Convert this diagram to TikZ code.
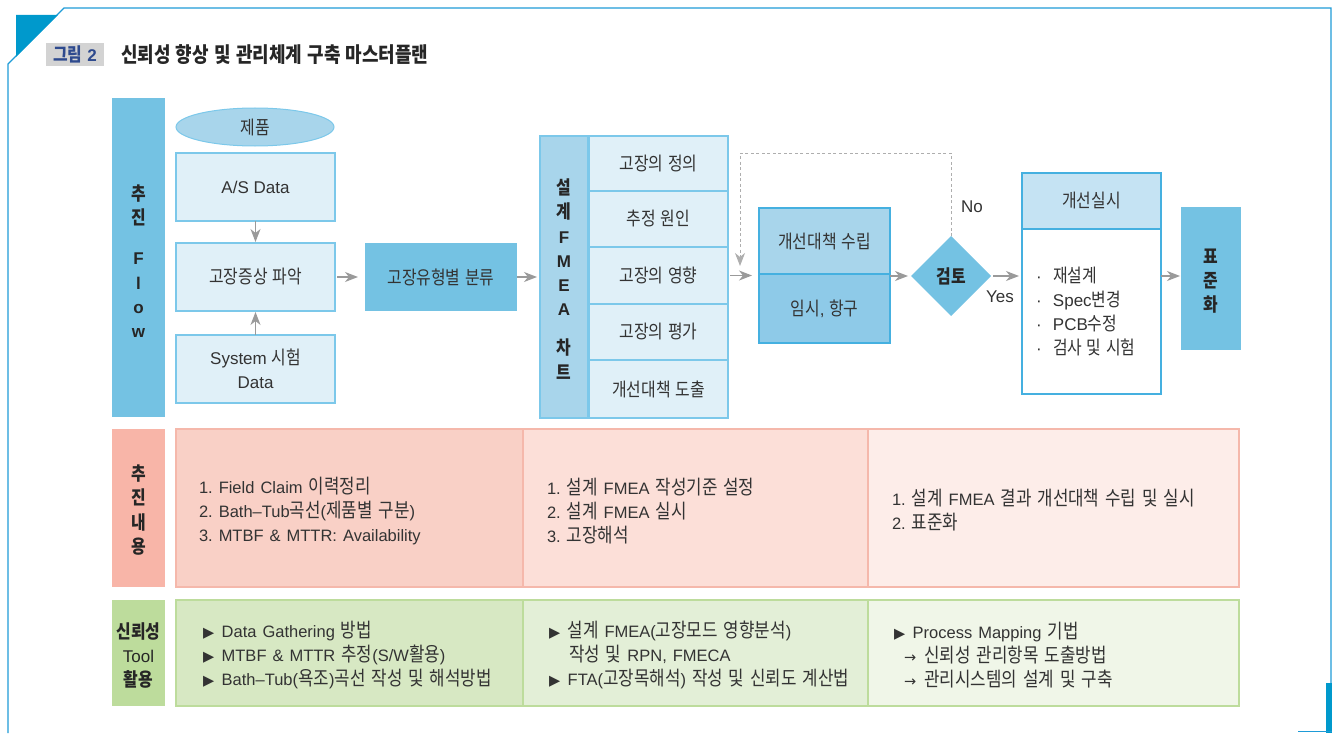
\documentclass[tikz,border=0pt]{standalone}
\usepackage{fontspec}
\setmainfont{Liberation Sans}
\newfontfamily\krA{Noto Sans CJK KR}[FakeStretch=0.85, Scale=1.1]
\newfontfamily\krB{Noto Sans CJK KR}[FakeStretch=0.85, Scale=1.2]
\newcommand\krfont{\krA}
\newfontfamily\symfont{DejaVu Sans}[Scale=0.88]
\XeTeXinterchartokenstate=1
\newXeTeXintercharclass\krclass
\newcount\kc
\kc="AC00
\loop\XeTeXcharclass\kc=\krclass\ifnum\kc<"D7A3 \advance\kc by 1 \repeat
\XeTeXinterchartoks 0 \krclass={\krfont}
\XeTeXinterchartoks 4095 \krclass={\krfont}
\XeTeXinterchartoks \krclass 0={\rmfamily}
\XeTeXinterchartoks \krclass 4095={\rmfamily}
\newcommand\tri{{\symfont ▶}\hspace{7.5pt}}
\newcommand\rarr{{\symfont →}\hspace{8pt}}
\newcommand\cellsetup{\spaceskip=6pt plus 1pt\relax\renewcommand\krfont{\krB}}
\usetikzlibrary{arrows.meta,shapes.geometric}
\definecolor{txt}{HTML}{333333}
\definecolor{frameblue}{HTML}{1E9BD7}
\definecolor{deep}{HTML}{0099CC}
\definecolor{flow}{HTML}{74C2E3}
\definecolor{mid}{HTML}{A8D5EB}
\definecolor{pale}{HTML}{E0F0F8}
\definecolor{edge}{HTML}{7CC8EA}
\definecolor{dedge}{HTML}{45B0E0}
\definecolor{tempf}{HTML}{8ECAE8}
\definecolor{hdr}{HTML}{C5E3F3}
\definecolor{agray}{HTML}{9A9A9A}
\definecolor{salmon}{HTML}{F8B5A8}
\definecolor{sa}{HTML}{F9D0C6}
\definecolor{sb}{HTML}{FCDFD8}
\definecolor{sc}{HTML}{FDEDE9}
\definecolor{sedge}{HTML}{F5B8AB}
\definecolor{green}{HTML}{BDDC9C}
\definecolor{ga}{HTML}{D7E8C3}
\definecolor{gb}{HTML}{E3EFD7}
\definecolor{gc}{HTML}{F0F6E8}
\definecolor{titlegray}{HTML}{D3D3D3}
\definecolor{titleblue}{HTML}{2E4A8E}
\begin{document}
\begin{tikzpicture}[x=1pt,y=-1pt,
  every node/.style={text=txt, font=\fontsize{17}{24}\selectfont\frenchspacing, inner sep=0pt, outer sep=0pt},
  pbox/.style={draw=edge, line width=1.2pt, fill=pale},
  lbl/.style={align=center, text=black!85, font=\fontsize{17}{24.3}\selectfont\bfseries},
  arr/.style={draw=agray, line width=1.2pt, -{Stealth[length=13pt,width=10pt,inset=4pt]}},
  cell/.style={line width=1.2pt},
  celltext/.style={anchor=west, align=left, font=\fontsize{16.5}{23.6}\selectfont\frenchspacing\cellsetup},
  ]
\useasboundingbox (0,0) rectangle (1332,733);
% frame
\draw[frameblue, line width=1.2pt] (8,733) -- (8,64) -- (64,8) -- (1331,8) -- (1331,690);
\fill[deep] (16,15) -- (58,15) -- (16,57) -- cycle;
\fill[deep] (1326,683) rectangle (1332,733);
\draw[frameblue, line width=1.2pt] (1298,731.5) -- (1332,731.5);
% title
\node[fill=titlegray, minimum width=58pt, minimum height=23pt, text=titleblue, font=\fontsize{17}{20}\selectfont\bfseries] (fig) at (75,54.5) {그림 2};
\node[anchor=west, text=black!85, font=\fontsize{19.2}{20}\selectfont\bfseries] (title) at (121,55) {신뢰성 향상 및 관리체계 구축 마스터플랜};
% left labels
\node[fill=flow, minimum width=53pt, minimum height=319pt] (lflow) at (138.5,257.5) {};
\node[lbl] (lflowt) at (138.5,261) {추\\진\\[16pt]F\\l\\o\\w};
\node[fill=salmon, minimum width=53pt, minimum height=158pt] (lcont) at (138.5,508) {};
\node[lbl] (lcontt) at (138.5,510) {추\\진\\내\\용};
\node[fill=green, minimum width=53pt, minimum height=106pt] (ltool) at (138.5,653) {};
\node[lbl, font=\fontsize{17}{24}\selectfont] (ltoolt) at (138.5,655) {{\bfseries 신뢰성}\\Tool\\{\bfseries 활용}};
% flow column 1
\node[ellipse, draw=edge, fill=mid, line width=1pt, minimum width=158pt, minimum height=38pt] (jp) at (255,127) {제품};
\node[pbox, minimum width=159pt, minimum height=68pt] (asd) at (255.5,187) {A/S Data};
\node[pbox, minimum width=159pt, minimum height=68pt] (sym) at (255.5,277) {고장증상 파악};
\node[pbox, minimum width=159pt, minimum height=68pt, align=center] (sys) at (255.5,369) {System 시험\\Data};
\node[fill=flow, minimum width=152pt, minimum height=68pt] (cls) at (441,277) {고장유형별 분류};
% FMEA chart
\node[draw=edge, fill=mid, line width=1.2pt, minimum width=48pt, minimum height=282pt] (fcol) at (564,277) {};
\node[lbl, font=\fontsize{17}{24.2}\selectfont\bfseries] (fcolt) at (564,279) {설\\계\\F\\M\\E\\A\\[15pt]차\\트};
\node[pbox, minimum width=139pt, minimum height=55pt] (r1) at (658.5,163.5) {고장의 정의};
\node[pbox, minimum width=139pt, minimum height=56pt] (r2) at (658.5,219) {추정 원인};
\node[pbox, minimum width=139pt, minimum height=57pt] (r3) at (658.5,275.5) {고장의 영향};
\node[pbox, minimum width=139pt, minimum height=56pt] (r4) at (658.5,332) {고장의 평가};
\node[pbox, minimum width=139pt, minimum height=58pt] (r5) at (658.5,389) {개선대책 도출};
% measures
\node[draw=dedge, fill=mid, line width=1.5pt, minimum width=131pt, minimum height=66pt] (plan) at (824.5,241) {개선대책 수립};
\node[draw=dedge, fill=tempf, line width=1.5pt, minimum width=131pt, minimum height=69pt] (tmp) at (824.5,308.5) {임시, 항구};
\node[diamond, aspect=1, fill=flow, minimum width=80pt, minimum height=80pt, font=\fontsize{17}{20}\selectfont\bfseries, text=black!85] (rev) at (951,276) {검토};
\node (no) at (972,207) {No};
\node (yes) at (1000,297) {Yes};
% implementation
\node[draw=dedge, fill=hdr, line width=1.2pt, minimum width=139pt, minimum height=56pt] (ihd) at (1091.5,201) {개선실시};
\node[draw=dedge, fill=white, line width=1.2pt, minimum width=139pt, minimum height=165pt] (ibd) at (1091.5,311.5) {};
\node[anchor=west, align=left] (ibt) at (1036,312) {\makebox[17pt][l]{·}재설계\\\makebox[17pt][l]{·}Spec변경\\\makebox[17pt][l]{·}PCB수정\\\makebox[17pt][l]{·}검사 및 시험};
\node[fill=flow, minimum width=60pt, minimum height=143pt] (std) at (1211,278.5) {};
\node[lbl] (stdt) at (1211,281) {표\\준\\화};
% arrows
\draw[arr, shorten >=1pt] (asd.south) -- (sym.north);
\draw[arr, shorten >=1pt] (sys.north) -- (sym.south);
\draw[arr, shorten <=2pt, shorten >=7pt] (sym.east) -- (cls.west);
\draw[arr, shorten >=3pt] (cls.east) -- (fcol.west);
\draw[arr, shorten <=2pt, shorten >=7pt] (r3.east) -- (r3.east -| plan.west);
\draw[arr, shorten >=3pt] (rev.west -| tmp.east) -- (rev.west);
\draw[arr, shorten <=2pt, shorten >=3pt] (rev.east) -- (rev.east -| ibd.west);
\draw[arr, shorten >=1pt] (ibd.east |- rev.east) -- (std.west |- rev.east);
\coordinate (fb1) at (740,153);
\coordinate (fb2) at (740,266);
\draw[draw=agray!80, line width=1pt, dash pattern=on 3pt off 2.5pt, -{Stealth[length=13pt,width=10pt,inset=4pt]}] (rev.north) |- (fb1) -- (fb2);
% content row
\node[cell, fill=sa, draw=sedge, minimum width=347pt, minimum height=158pt] (c11) at (349.5,508) {};
\node[cell, fill=sb, draw=sedge, minimum width=345pt, minimum height=158pt] (c12) at (695.5,508) {};
\node[cell, fill=sc, draw=sedge, minimum width=371pt, minimum height=158pt] (c13) at (1053.5,508) {};
\node[celltext] (t11) at (199,511) {1. Field Claim 이력정리\\2. Bath–Tub곡선(제품별 구분)\\3. MTBF \& MTTR: Availability};
\node[celltext] (t12) at (547,511) {1. 설계 FMEA 작성기준 설정\\2. 설계 FMEA 실시\\3. 고장해석};
\node[celltext] (t13) at (892,510) {1. 설계 FMEA 결과 개선대책 수립 및 실시\\2. 표준화};
% tool row
\node[cell, fill=ga, draw=green, minimum width=347pt, minimum height=106pt] (c21) at (349.5,653) {};
\node[cell, fill=gb, draw=green, minimum width=345pt, minimum height=106pt] (c22) at (695.5,653) {};
\node[cell, fill=gc, draw=green, minimum width=371pt, minimum height=106pt] (c23) at (1053.5,653) {};
\node[celltext] (t21) at (203,655) {\tri Data Gathering 방법\\\tri MTBF \& MTTR 추정(S/W활용)\\\tri Bath–Tub(욕조)곡선 작성 및 해석방법};
\node[celltext] (t22) at (549,655) {\tri 설계 FMEA(고장모드 영향분석)\\\hspace*{20pt}작성 및 RPN, FMECA\\\tri FTA(고장목해석) 작성 및 신뢰도 계산법};
\node[celltext] (t23) at (894,655) {\tri Process Mapping 기법\\\hspace*{10pt}\rarr 신뢰성 관리항목 도출방법\\\hspace*{10pt}\rarr 관리시스템의 설계 및 구축};
\end{tikzpicture}
\end{document}
